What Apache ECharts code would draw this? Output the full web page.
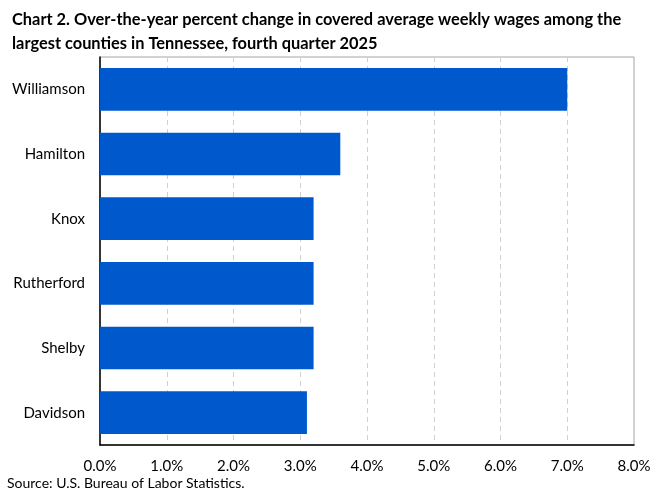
<!DOCTYPE html>
<html>
<head>
<meta charset="UTF-8">
<title>Chart 2</title>
<script src="https://cdn.jsdelivr.net/npm/echarts@6/dist/echarts.min.js"></script>
<style>
  html, body { margin: 0; padding: 0; background: #fff; }
  #chart { width: 660px; height: 493px; }
</style>
</head>
<body>
<div id="chart"></div>
<script>
// counties, top to bottom
var counties = ['Williamson', 'Hamilton', 'Knox', 'Rutherford', 'Shelby', 'Davidson'];
// percent change, fourth quarter 2025
var wageChange = [7.0, 3.6, 3.2, 3.2, 3.2, 3.1];
var xTicks = [0, 1, 2, 3, 4, 5, 6, 7, 8];

var font = 'Lato, "Open Sans", sans-serif';
var chart = echarts.init(document.getElementById('chart'));

chart.setOption({
  animation: false,
  title: [{
    text: 'Chart 2. Over-the-year percent change in covered average weekly wages among the\nlargest counties in Tennessee, fourth quarter 2025',
    left: 7, top: 3,
    textStyle: { fontFamily: font, fontSize: 16.4, fontWeight: 'bold', color: '#000', lineHeight: 24 }
  }, {
    text: 'Source: U.S. Bureau of Labor Statistics.',
    left: 7, top: 474, padding: 0,
    textStyle: { fontFamily: font, fontSize: 14, fontWeight: 'normal', color: '#000', lineHeight: 18 }
  }],
  grid: {
    left: 100, right: 26, top: 57, bottom: 48,
    show: true, borderColor: '#a6a6a6', borderWidth: 1
  },
  xAxis: {
    type: 'value',
    min: xTicks[0], max: xTicks[xTicks.length - 1], interval: 1,
    axisLine: { show: true, lineStyle: { color: '#000', width: 1.5 } },
    axisTick: { show: false },
    axisLabel: {
      fontFamily: font, fontSize: 15, color: '#000', margin: 14,
      formatter: function (v) { return v.toFixed(1) + '%'; }
    },
    splitLine: { show: true, lineStyle: { color: '#d0d0d0', type: [5, 4] } }
  },
  yAxis: {
    type: 'category',
    data: counties,
    inverse: true,
    axisLine: { show: true, lineStyle: { color: '#000', width: 1.5 } },
    axisTick: { show: false },
    axisLabel: { fontFamily: font, fontSize: 15, color: '#000', margin: 15 }
  },
  series: [{
    type: 'bar',
    data: wageChange,
    barCategoryGap: '34%',
    itemStyle: { color: '#0059cc' }
  }]
});
</script>
</body>
</html>
